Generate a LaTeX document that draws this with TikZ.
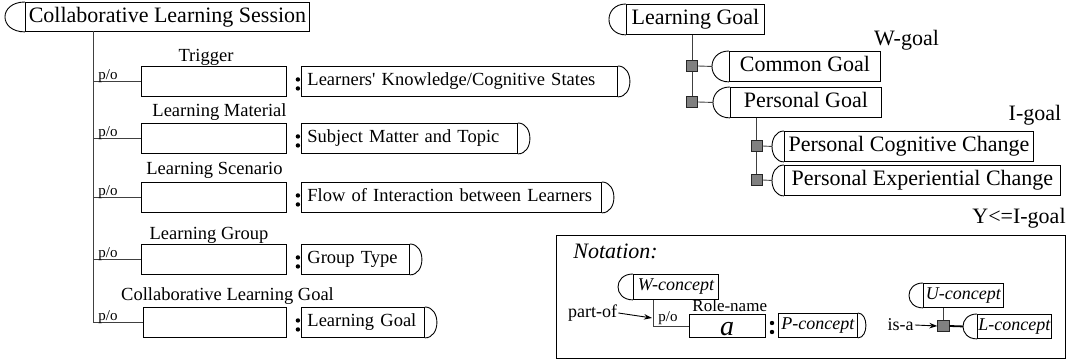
\documentclass[tikz,border=0pt]{standalone}
\usepackage{fontspec}
\setmainfont{Liberation Serif}[Ligatures=TeXOff]
\usetikzlibrary{calc,arrows.meta}
\begin{document}
\begin{tikzpicture}[x=1pt,y=-1pt, line width=0.9pt,
  conn/.style={draw=black!75, line width=0.9pt},
  box/.style={draw, anchor=north west, inner sep=0pt},
  big/.style={font=\fontsize{22}{24}\selectfont, text height=15pt, text depth=4.5pt},
  mid/.style={font=\fontsize{18.5}{20}\selectfont, text height=12.5pt, text depth=4pt},
  itf/.style={font=\fontsize{18}{20}\selectfont\itshape, text height=12pt, text depth=4pt},
  lbl/.style={font=\fontsize{18.5}{20}\selectfont, anchor=base, inner sep=0pt},
  small/.style={font=\fontsize{15}{16}\selectfont, anchor=base west, inner sep=0pt},
  vbox/.style={box, mid, align=left, inner xsep=6pt, minimum height=30},
  rbox/.style={box, minimum width=145, minimum height=30},
  sq/.style={draw=black!85, fill=black!50, minimum size=11, inner sep=0pt, line width=0.8pt},
  dotc/.style={fill, circle, inner sep=0pt, minimum size=4.4},
  arr/.style={-{Stealth[length=8pt,width=5.5pt]}, line width=0.9pt},
]
\useasboundingbox (0,0) rectangle (1068,363);

% ---------- left part ----------
\node[box, big, minimum width=284, minimum height=29] (cls) at (25,2) {Collaborative Learning Session};
\draw (cls.north west) .. controls +(-26.7,0) and +(-26.7,0) .. (cls.south west);

\node[rbox] (r1) at (141,66) {};
\node[rbox] (r2) at (141,123) {};
\node[rbox] (r3) at (141,182) {};
\node[rbox] (r4) at (141,244) {};
\node[rbox, minimum width=143] (r5) at (143,307) {};

\node[lbl] (l1) at (206,62) {Trigger};
\node[lbl] (l2) at (219.5,117) {Learning Material};
\node[lbl] (l3) at (214.5,175) {Learning Scenario};
\node[lbl] (l4) at (209,240) {Learning Group};
\node[lbl] (l5) at (227.5,301) {Collaborative Learning Goal};

\coordinate (tk) at (93,31);
\draw[conn] (tk) -- (tk |- r5.west);
\foreach \i in {1,...,5}{
  \draw[conn] (tk |- r\i.west) -- (r\i.west);
  \node[small] (po\i) at ($(tk |- r\i.west)+(5,-1.5)$) {p/o};
  \node[dotc] (ca\i) at ($(r\i.east)+(11,-2)$) {};
  \node[dotc] (cb\i) at ($(r\i.east)+(11,7)$) {};
}

\node[vbox, text width=304] (v1) at (301,66) {Learners' Knowledge/Cognitive States};
\node[vbox, text width=204] (v2) at (301,123) {Subject Matter and Topic};
\node[vbox, text width=288] (v3) at (301,182) {Flow of Interaction between Learners};
\node[vbox, text width=96] (v4) at (301,244) {Group Type};
\node[vbox, text width=111] (v5) at (301,307) {Learning Goal};
\foreach \i in {1,...,5}{
  \draw (v\i.north east) .. controls +(16,0) and +(16,0) .. (v\i.south east);
}

% ---------- right tree ----------
\node[box, big, minimum width=138, minimum height=30] (lg) at (626,4) {Learning Goal};
\draw (lg.north west) .. controls +(-22.7,0) and +(-22.7,0) .. (lg.south west);

\node[box, big, minimum width=151, minimum height=30] (cg) at (729,51) {Common Goal};
\draw (cg.north west) .. controls +(-22.7,0) and +(-22.7,0) .. (cg.south west);
\node[box, big, minimum width=151, minimum height=30] (pg) at (730,87) {Personal Goal};
\draw (pg.north west) .. controls +(-22.7,0) and +(-22.7,0) .. (pg.south west);

\node[sq] (s1) at (692,66) {};
\node[sq] (s2) at (692,102) {};
\draw[conn] (s1 |- lg.south) -- (s1.north);
\draw[conn] (s1.south) -- (s2.north);
\draw[conn] (s1.east) -- ($(cg.west)+(-17,0)$);
\draw[conn] (s2.east) -- ($(pg.west)+(-17,0)$);

\node[box, big, minimum width=249, minimum height=30] (pcc) at (784,131) {Personal Cognitive Change};
\draw (pcc.north west) .. controls +(-16,0) and +(-16,0) .. (pcc.south west);
\node[box, big, minimum width=276, minimum height=30] (pec) at (784,165) {Personal Experiential Change};
\draw (pec.north west) .. controls +(-16,0) and +(-16,0) .. (pec.south west);

\node[sq] (s3) at (756.5,146) {};
\node[sq] (s4) at (756.5,180) {};
\draw[conn] (s3 |- pg.south) -- (s3.north);
\draw[conn] (s3.south) -- (s4.north);
\draw[conn] (s3.east) -- ($(pcc.west)+(-12,0)$);
\draw[conn] (s4.east) -- ($(pec.west)+(-12,0)$);

\node[big, inner sep=0pt] (wg) at (906.5,40) {W-goal};
\node[big, inner sep=0pt] (ig) at (1035,115) {I-goal};
\node[big, inner sep=0pt] (yg) at (1019,218) {Y<=I-goal};

% ---------- notation ----------
\node[draw, anchor=north west, minimum width=509, minimum height=123, inner sep=0pt, line width=1pt] (nbox) at (556,235) {};
\node[font=\fontsize{22}{24}\selectfont\itshape, anchor=base west, inner sep=0pt] (ntit) at (573,259) {Notation:};

\node[box, itf, minimum width=85, minimum height=25] (wc) at (633,274) {W-concept};
\draw (wc.north west) .. controls +(-20,0) and +(-20,0) .. (wc.south west);

\node[box, minimum width=76, minimum height=23] (ra) at (689,314) {};
\node[font=\fontsize{28}{28}\selectfont\itshape, anchor=base, inner sep=0pt] (ral) at (727,335) {a};
\coordinate (nc) at (653,326);
\draw[conn] (wc.south -| nc) -- (nc) -- (ra.west |- nc);
\node[small] (npo) at (658,322) {p/o};
\node[font=\fontsize{17}{18}\selectfont, anchor=base west, inner sep=0pt] (rn) at (692,312) {Role-name};

\node[font=\fontsize{18}{20}\selectfont, inner sep=1pt] (pof) at (592.5,313) {part-of};
\coordinate (pa) at (652,318);
\draw[arr] (pof.east) -- (pa);

\node[dotc] (nca) at (772,323) {};
\node[dotc] (ncb) at (772,332) {};

\node[box, itf, minimum width=79, minimum height=24] (pc) at (778,313) {P-concept};
\draw (pc.north east) .. controls +(10.7,0) and +(10.7,0) .. (pc.south east);

\node[box, itf, minimum width=80, minimum height=24] (uc) at (923,283) {U-concept};
\draw (uc.north west) .. controls +(-18.7,0) and +(-18.7,0) .. (uc.south west);
\node[box, itf, minimum width=74, minimum height=24] (lc) at (977,314) {L-concept};
\draw (lc.north west) .. controls +(-18.7,0) and +(-18.7,0) .. (lc.south west);

\node[sq, minimum size=11.5] (s5) at (943.5,326) {};
\draw[conn] (s5 |- uc.south) -- (s5.north);
\draw[line width=1.8pt] (s5.east) -- ($(lc.west)+(-14,0)$);

\node[font=\fontsize{18}{20}\selectfont, inner sep=1pt] (isa) at (900.5,325) {is-a};
\draw[arr] (isa.east) -- (s5.west);
\end{tikzpicture}
\end{document}
